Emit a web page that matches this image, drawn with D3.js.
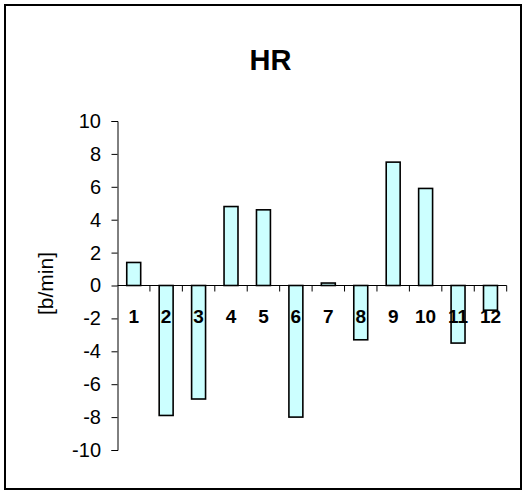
<!DOCTYPE html>
<html>
<head>
<meta charset="utf-8">
<script src="https://cdn.jsdelivr.net/npm/d3@7"></script>
<style>
  html, body { margin: 0; padding: 0; background: #fff; }
  svg { display: block; }
  text { font-family: Arial, "Liberation Sans", sans-serif; }
</style>
</head>
<body>
<svg id="chart" width="526" height="491"></svg>
<script>
const categories = ["1","2","3","4","5","6","7","8","9","10","11","12"];
const values = [1.4, -7.9, -6.9, 4.8, 4.6, -8.0, 0.15, -3.3, 7.5, 5.9, -3.5, -1.5];
const yTicks = [10, 8, 6, 4, 2, 0, -2, -4, -6, -8, -10];
const title = "HR";
const yTitle = "[b/min]";

const svg = d3.select("#chart");

// outer frame
svg.append("rect")
  .attr("x", 5).attr("y", 5).attr("width", 516).attr("height", 484)
  .attr("fill", "none").attr("stroke", "#000").attr("stroke-width", 2);

const plot = { left: 117.5, right: 506.7, top: 121, bottom: 450 };

const x = d3.scaleBand().domain(categories).range([plot.left, plot.right]).paddingInner(0).paddingOuter(0);
const y = d3.scaleLinear().domain([-10, 10]).range([plot.bottom, plot.top]);

// title
svg.append("text")
  .attr("x", 270.5).attr("y", 69.5)
  .attr("text-anchor", "middle")
  .attr("font-weight", "bold").attr("font-size", 29)
  .text(title);

// bars
const bw = x.bandwidth() * 0.43;
svg.append("g").selectAll("rect").data(values).join("rect")
  .attr("x", (d, i) => x(categories[i]) + x.bandwidth() / 2 - bw / 2)
  .attr("y", d => y(Math.max(0, d)))
  .attr("width", bw)
  .attr("height", d => Math.abs(y(d) - y(0)))
  .attr("fill", "#CCFFFF")
  .attr("stroke", "#000")
  .attr("stroke-width", 1.6);

// y axis
const yAxis = d3.axisLeft(y).tickValues(yTicks).tickSize(6).tickPadding(10.5)
  .tickFormat(d => String(d));
const gy = svg.append("g").attr("transform", `translate(${plot.left},0)`).call(yAxis);
gy.select(".domain").attr("stroke", "#000").attr("stroke-width", 1);
gy.selectAll(".tick line").attr("stroke", "#000");
gy.selectAll(".tick text").attr("font-size", 20).attr("fill", "#000")
  .attr("font-family", "Arial, 'Liberation Sans', sans-serif");

// x axis at zero: tick marks at category boundaries
const gx = svg.append("g");
gx.append("line")
  .attr("x1", plot.left).attr("x2", plot.right)
  .attr("y1", y(0)).attr("y2", y(0))
  .attr("stroke", "#000").attr("stroke-width", 1);
gx.selectAll("line.tk").data(categories).join("line")
  .attr("class", "tk")
  .attr("x1", d => x(d) + x.bandwidth()).attr("x2", d => x(d) + x.bandwidth())
  .attr("y1", y(0)).attr("y2", y(0) + 6)
  .attr("stroke", "#000").attr("stroke-width", 1);
gx.selectAll("text").data(categories).join("text")
  .attr("x", d => x(d) + x.bandwidth() / 2)
  .attr("y", y(0) + 37.5)
  .attr("text-anchor", "middle")
  .attr("font-weight", "bold").attr("font-size", 19)
  .text(d => d);

// y title
svg.append("text")
  .attr("transform", `translate(52.5,${y(0) - 2}) rotate(-90)`)
  .attr("text-anchor", "middle")
  .attr("font-size", 21)
  .text(yTitle);
</script>
</body>
</html>
